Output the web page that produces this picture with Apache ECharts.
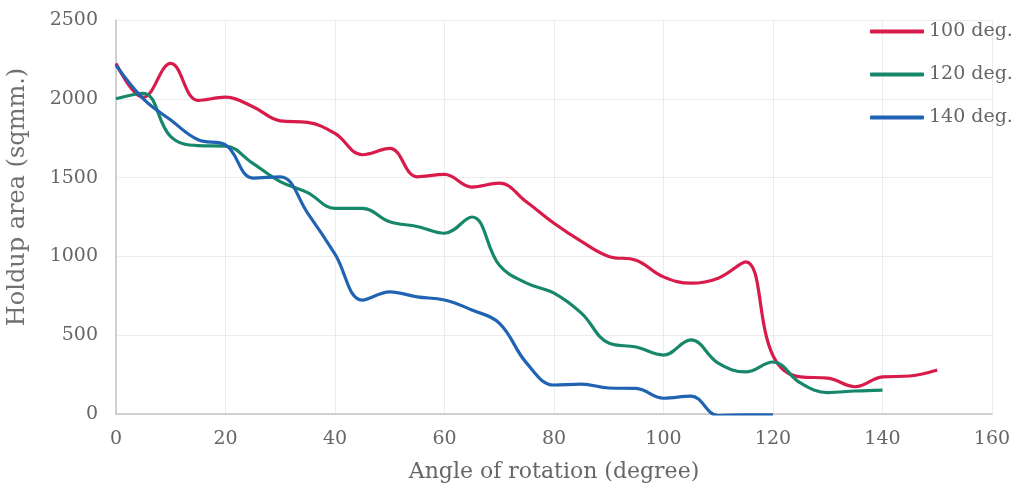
<!DOCTYPE html>
<html>
<head>
<meta charset="utf-8">
<script src="https://cdn.jsdelivr.net/npm/echarts@6/dist/echarts.min.js"></script>
<style>html,body{margin:0;padding:0;background:#fff;}#c{width:1017px;height:500px;}</style>
</head>
<body>
<div id="c"></div>
<script>
var seriesNames = ['100 deg.', '120 deg.', '140 deg.'];
var angles100 = [0,5,10,15,20,25,30,35,40,45,50,55,60,65,70,75,80,85,90,95,100,105,110,115,120,125,130,135,140,145,150];
var values100 = [2225,2010,2225,1990,2010,1950,1860,1850,1780,1645,1685,1505,1520,1440,1465,1345,1210,1095,1000,975,870,830,862,965,370,235,228,173,235,241,279];
var angles120 = [0,5,10,15,20,25,30,35,40,45,50,55,60,65,70,75,80,85,90,95,100,105,110,115,120,125,130,135,140];
var values120 = [2000,2035,1760,1703,1700,1590,1475,1405,1305,1305,1220,1190,1147,1250,945,830,767,640,450,425,374,470,323,267,330,197,136,146,152];
var angles140 = [0,5,10,15,20,25,30,35,40,45,50,55,60,65,70,75,80,85,90,95,100,105,110,115,120];
var values140 = [2214,2000,1865,1740,1707,1497,1505,1275,1015,723,775,743,723,660,577,323,184,190,165,162,100,114,-10,-5,-5];
var xTicks = [0,20,40,60,80,100,120,140,160];
var yTicks = [0,500,1000,1500,2000,2500];
var colors = ['#d81b4a', '#17876b', '#2063b2'];

function pairs(a, v){ return a.map(function(x,i){ return [x, v[i]]; }); }
var font = '"DejaVu Serif", serif';
var chart = echarts.init(document.getElementById('c'), null, {renderer:'canvas'});
chart.setOption({
  animation: false,
  backgroundColor: '#fff',
  color: colors,
  grid: {left: 116, right: 25, top: 20, bottom: 86, containLabel: false, outerBoundsMode: 'none'},
  legend: {
    orient: 'vertical', left: 865, top: 17,
    itemWidth: 54, itemHeight: 4, itemGap: 24,
    icon: 'roundRect',
    textStyle: {fontFamily: font, fontSize: 19, color: '#666'},
    data: seriesNames
  },
  xAxis: {
    type: 'value', min: xTicks[0], max: xTicks[xTicks.length-1], interval: 20,
    name: 'Angle of rotation (degree)', nameLocation: 'middle', nameGap: 47,
    nameTextStyle: {fontFamily: font, fontSize: 22, color: '#666'},
    axisLine: {show: true, lineStyle: {color: '#c4c4c4', width: 1.5}},
    axisTick: {show: false},
    axisLabel: {fontFamily: font, fontSize: 19, color: '#666', margin: 16, formatter: function(v){ return String(v); }},
    splitLine: {show: true, lineStyle: {color: '#ececec', width: 1}}
  },
  yAxis: {
    type: 'value', min: yTicks[0], max: yTicks[yTicks.length-1], interval: 500,
    name: 'Holdup area (sqmm.)', nameLocation: 'middle', nameGap: 86, nameRotate: 90,
    nameTextStyle: {fontFamily: font, fontSize: 24, color: '#707070', padding: [0,0,0,40]},
    axisLine: {show: true, lineStyle: {color: '#c4c4c4', width: 1.5}},
    axisTick: {show: false},
    axisLabel: {fontFamily: font, fontSize: 19, color: '#666', margin: 18, formatter: function(v){ return String(v); }},
    splitLine: {show: true, lineStyle: {color: '#ececec', width: 1}}
  },
  series: [
    {name: seriesNames[0], type: 'line', data: pairs(angles100, values100), smooth: 0.4, showSymbol: false, lineStyle: {width: 3.2}},
    {name: seriesNames[1], type: 'line', data: pairs(angles120, values120), smooth: 0.4, showSymbol: false, lineStyle: {width: 3.2}},
    {name: seriesNames[2], type: 'line', data: pairs(angles140, values140), smooth: 0.4, showSymbol: false, lineStyle: {width: 3.2}}
  ]
});
</script>
</body>
</html>
